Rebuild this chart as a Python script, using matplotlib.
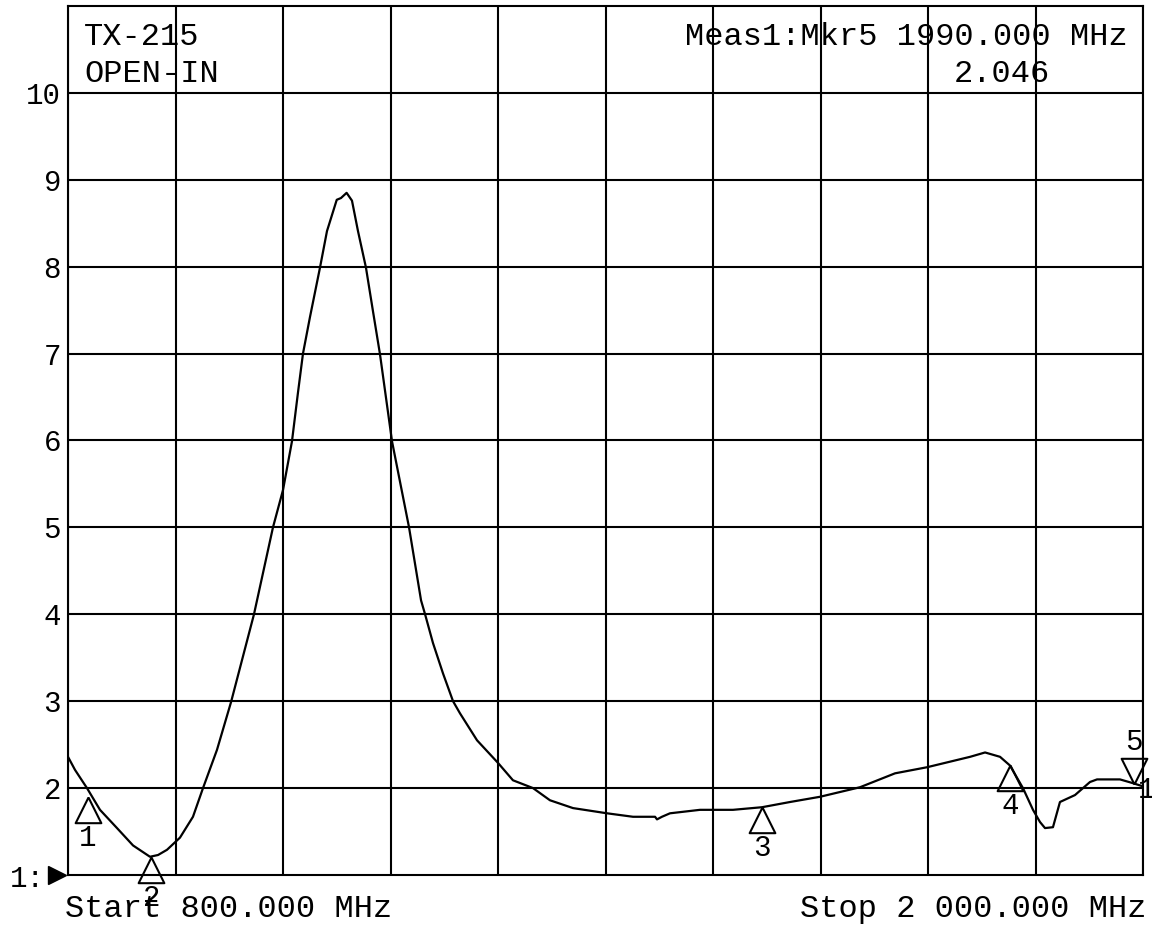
import numpy as np
import matplotlib
matplotlib.use("Agg")
from matplotlib import pyplot as plt

# SWR trace, 800 - 2000 MHz
freq_mhz = [800.0, 807.8, 821.2, 835.7, 854.7, 872.6, 891.5, 900.5, 910.5, 925.0,
            939.5, 950.7, 966.3, 982.0, 1007.6, 1028.8, 1040.0, 1050.0, 1056.7, 1062.3,
            1070.1, 1081.3, 1089.1, 1100.0, 1104.7, 1111.0, 1117.0, 1123.7, 1132.6, 1140.4,
            1148.3, 1161.7, 1180.7, 1194.1, 1198.6, 1207.4, 1218.6, 1229.8, 1237.6, 1256.6,
            1280.0, 1296.7, 1319.1, 1338.0, 1363.7, 1401.7, 1430.7, 1455.3, 1457.5, 1463.0,
            1472.0, 1505.5, 1542.3, 1574.7, 1606.0, 1639.4, 1684.1, 1723.2, 1758.9, 1807.0,
            1823.7, 1840.4, 1851.5, 1866.0, 1877.2, 1885.0, 1890.6, 1899.5, 1907.3, 1924.1,
            1940.8, 1948.7, 1974.3, 1987.7, 2000.0]
swr = [2.36, 2.21, 2.00, 1.75, 1.54, 1.34, 1.21, 1.23, 1.29, 1.43,
       1.67, 2.00, 2.44, 2.99, 4.00, 5.00, 5.43, 5.99, 6.55, 7.00,
       7.42, 7.99, 8.41, 8.77, 8.79, 8.85, 8.76, 8.41, 7.99, 7.49,
       6.99, 5.99, 5.00, 4.16, 4.00, 3.67, 3.32, 3.00, 2.86, 2.55,
       2.29, 2.09, 2.00, 1.86, 1.77, 1.71, 1.67, 1.67, 1.64, 1.67,
       1.71, 1.75, 1.75, 1.78, 1.84, 1.90, 2.01, 2.17, 2.24, 2.36,
       2.41, 2.36, 2.26, 2.00, 1.75, 1.61, 1.54, 1.55, 1.84, 1.92,
       2.07, 2.10, 2.10, 2.06, 2.02]

# markers
mkr_names = ["1", "2", "3", "4", "5"]
mkr_freq = [822.0, 893.0, 1575.0, 1851.5, 1990.0]
mkr_swr = [1.90, 1.21, 1.78, 2.27, 2.046]
mkr_up = [True, True, True, True, False]

ytick_vals = [2, 3, 4, 5, 6, 7, 8, 9, 10]
ytick_labels = ["2", "3", "4", "5", "6", "7", "8", "9", "10"]

W, H = 1152, 925
FONT = "Liberation Mono"


def fxy(x, y):
    return x / W, 1 - y / H


fig = plt.figure(figsize=(W / 100, H / 100), dpi=100)
ax = fig.add_axes([68 / W, 1 - 875 / H, (1143 - 68) / W, (875 - 6) / H])

ax.plot(freq_mhz, swr, color="black", lw=1.6)

ax.set_xlim(800, 2000)
ax.set_ylim(1, 11)
ax.set_xticks(np.arange(800, 2001, 120))
ax.set_xticklabels([])
ax.set_yticks(ytick_vals)
ax.set_yticklabels(ytick_labels, fontfamily=FONT, fontsize=21)
ax.tick_params(length=0, pad=5)
ax.grid(True, color="black", lw=1.5)
for s in ax.spines.values():
    s.set_linewidth(1.5)

# marker triangles, apex on the trace
tri_up = [(0, 0), (-0.5, -1), (0.5, -1), (0, 0)]
tri_dn = [(0, 0), (-0.5, 1), (0.5, 1), (0, 0)]
for name, f, v, up in zip(mkr_names, mkr_freq, mkr_swr, mkr_up):
    ax.plot([f], [v], marker=tri_up if up else tri_dn, ms=37, mfc="none",
            mec="black", mew=1.5, clip_on=False)
    ax.annotate(name, (f, v), xytext=(0, -41 if up else 42), textcoords="offset pixels",
                ha="center", va="center", fontfamily=FONT, fontsize=21,
                annotation_clip=False)

# reference line arrow "1:"
ax.plot([-11 / 1075], [1], marker=">", ms=13, color="black",
        transform=ax.get_yaxis_transform(), clip_on=False)
fig.text(*fxy(10, 887), "1:", fontfamily=FONT, fontsize=21, ha="left", va="baseline")

fig.text(*fxy(84, 45), "TX-215", fontfamily=FONT, fontsize=23, ha="left", va="baseline")
fig.text(*fxy(84, 82), "OPEN-IN", fontfamily=FONT, fontsize=23, ha="left", va="baseline")
fig.text(*fxy(1128, 45), "Meas1:Mkr5 1990.000 MHz", fontfamily=FONT, fontsize=23,
         ha="right", va="baseline")
fig.text(*fxy(1050, 82), "2.046", fontfamily=FONT, fontsize=23, ha="right", va="baseline")
fig.text(*fxy(65, 917), "Start 800.000 MHz", fontfamily=FONT, fontsize=23,
         ha="left", va="baseline")
fig.text(*fxy(1146, 917), "Stop 2 000.000 MHz", fontfamily=FONT, fontsize=23,
         ha="right", va="baseline")
fig.text(*fxy(1138, 790), "1", fontfamily=FONT, fontsize=21, ha="left", va="center")

fig.savefig("out.png", dpi=100, facecolor="white")
